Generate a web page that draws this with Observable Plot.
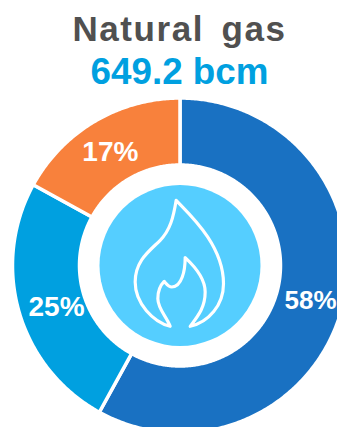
<!DOCTYPE html>
<html>
<head>
<meta charset="utf-8">
<script src="https://cdn.jsdelivr.net/npm/d3@7"></script>
<script src="https://cdn.jsdelivr.net/npm/@observablehq/plot@0.6"></script>
<style>
  html, body { margin: 0; padding: 0; background: #fff; overflow: hidden; width: 337px; height: 427px; }
  .head { position: relative; height: 96px; width: 337px; overflow: hidden; font-family: "Liberation Sans", Arial, sans-serif; font-weight: 700; }
  .head div { position: absolute; left: 0; width: 359px; text-align: center; white-space: pre; }
  #title { top: 9px; line-height: 40px; font-size: 35px; letter-spacing: 1.6px; word-spacing: 6px; color: #505050; }
  #subtitle { top: 50px; line-height: 44px; font-size: 36.8px; color: #00a0e0; }
  #chart svg { display: block; }
</style>
</head>
<body>
<div class="head">
  <div id="title">Natural gas</div>
  <div id="subtitle">649.2 bcm</div>
</div>
<div id="chart"></div>
<script>
// Share of natural gas by segment, clockwise from twelve o'clock
const segments = ["Segment A", "Segment B", "Segment C"];
const shares = [58, 25, 17];
const sliceColors = ["#1971c2", "#00a0e0", "#f8813c"];

const width = 337, height = 331;
const cx = 179.5, cy = 169;       // ring centre in pixels
const outerPx = 167.5;            // ring radius, stroke included
const innerRatio = 100.5 / outerPx;

const pie = d3.pie().sort(null).value((d) => d)(shares);

// Outline of each ring slice, in units of the outer radius
const polar = (a, r) => ({x: r * Math.sin(a), y: r * Math.cos(a)});
const outlines = pie.flatMap((s, i) => {
  const n = Math.ceil((s.endAngle - s.startAngle) / 0.01);
  const angles = d3.range(n + 1).map((k) => s.startAngle + (k / n) * (s.endAngle - s.startAngle));
  const pts = [...angles.map((a) => polar(a, 1)), ...angles.reverse().map((a) => polar(a, innerRatio))];
  pts.push(pts[0]);
  return pts.map((p) => ({...p, segment: segments[i]}));
});

// Percentage labels sit on the ring's mid radius, nudged to clear the inner edge
const labelNudge = [[0, 2], [6, 4], [-1, 3]];
const labelSizes = [26, 28, 28];
const labels = pie.map((s, i) => ({
  ...polar((s.startAngle + s.endAngle) / 2, 0.805),
  text: `${shares[i]}%`,
  nudge: labelNudge[i],
  size: labelSizes[i]
}));

// Flame outline on a 3x grid around the disc centre
const flamePath = "M-10 -194 C22 -159 132 -64 132 56 C132 121 87 171 32 184 C57 151 77 126 77 81 C77 41 42 1 17 -22 C17 16 7 66 -23 66 C-33 66 -40 56 -46 49 C-63 66 -65 91 -65 101 C-65 131 -38 156 -28 184 C-78 171 -133 116 -133 51 C-133 -14 -88 -44 -58 -74 C-28 -104 -18 -144 -10 -194 Z";

const flame = (index, {x, y}) => {
  const g = d3.create("svg:g")
    .attr("transform", `translate(${x(0)},${y(0)}) scale(${1 / 3})`);
  g.append("path")
    .attr("d", flamePath)
    .attr("fill", "none")
    .attr("stroke", "#fff")
    .attr("stroke-width", 9.5)
    .attr("stroke-linejoin", "round");
  return g.node();
};

const chart = Plot.plot({
  width,
  height,
  margin: 0,
  style: {background: "#fff", overflow: "hidden"},
  x: {axis: null, domain: [-cx / outerPx, (width - cx) / outerPx], range: [0, width]},
  y: {axis: null, domain: [(cy - height) / outerPx, cy / outerPx], range: [height, 0]},
  color: {domain: segments, range: sliceColors},
  marks: [
    Plot.line(outlines, {x: "x", y: "y", z: "segment", fill: "segment", stroke: "#fff", strokeWidth: 3.5}),
    Plot.dot([{x: 0, y: 0}], {x: "x", y: "y", r: 80.5, fill: "#55ceff"}),
    flame,
    ...labels.map((l) => Plot.text([l], {
      x: "x", y: "y", text: "text",
      dx: l.nudge[0], dy: l.nudge[1],
      fill: "#fff", fontSize: l.size, fontWeight: 700,
      fontFamily: "Liberation Sans, Arial, sans-serif"
    }))
  ]
});
document.getElementById("chart").append(chart);
</script>
</body>
</html>
